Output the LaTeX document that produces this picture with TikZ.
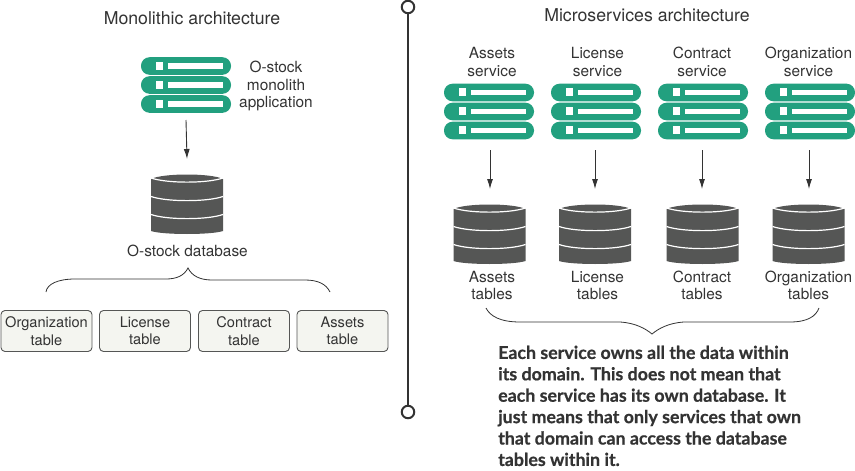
\documentclass[tikz,border=0pt]{standalone}
\usepackage{fontspec}
\setmainfont{TeX Gyre Heros}
\newfontfamily\notefont[BoldFeatures={FakeBold=0.6}]{Lato}
\usetikzlibrary{arrows.meta}
\definecolor{srvgreen}{HTML}{22A07F}
\definecolor{dbgray}{HTML}{555655}
\definecolor{txtgray}{HTML}{333333}
\definecolor{tablefill}{HTML}{F4F5F0}
\tikzset{
  lbl/.style={text=txtgray, align=center, inner sep=0pt, font=\fontsize{15.4}{17.6}\selectfont},
  headlbl/.style={lbl, font=\fontsize{17.7}{20}\selectfont},
  tablebox/.style={lbl, font=\fontsize{14.6}{17.4}\selectfont, draw=dbgray, line width=0.9pt, fill=tablefill,
    rounded corners=4pt, minimum width=91pt, minimum height=41pt},
  endring/.style={circle, draw=txtgray, line width=2pt, fill=white, minimum size=12.5pt, inner sep=0pt},
  brace/.style={draw=txtgray, line width=0.8pt},
  flow/.style={->, line width=0.9pt, draw=txtgray},
  srvrow/.pic={
    \fill[srvgreen, rounded corners=8.5pt] (-45,-8.8) rectangle (45,8.8);
    \fill[white] (-30,-4.2) rectangle (-23,3.5);
    \fill[white] (-18,-2.6) rectangle (37,2.6);
  },
  srvstack/.pic={
    \pic at (0,-19) {srvrow};
    \pic at (0,0) {srvrow};
    \pic at (0,19) {srvrow};
    \coordinate (-out) at (0,35);
  },
  dbstack/.pic={
    \fill[dbgray] (-36,-25) .. controls (-24,-31) and (24,-31) .. (36,-25) -- (36,27)
      .. controls (24,31) and (-24,31) .. (-36,27) -- cycle;
    \foreach \yy in {-26,-7.5,10.5} {
      \draw[white, line width=1.2pt] (-36,\yy) .. controls (-20,\yy+5.5) and (20,\yy+5.5) .. (36,\yy);
    }
    \coordinate (-in) at (0,-45);
  }
}
\begin{document}
\begin{tikzpicture}[x=1pt, y=-1pt, >={Latex[length=10pt,width=6pt]}]
  \useasboundingbox (0,0) rectangle (855,471);

  % divider
  \node[endring] (topring) at (408,7) {};
  \node[endring] (botring) at (408,412) {};
  \draw[txtgray, line width=1.7pt] (topring) -- (botring);

  % Monolithic side
  \node[headlbl] (monotitle) at (192,18) {Monolithic architecture};
  \pic (monoapp) at (186,85) {srvstack};
  \node[lbl] (monolbl) at (276,86) {O-stock\\monolith\\application};
  \pic (monodb) at (187,204) {dbstack};
  \draw[flow] (monoapp-out) -- (monodb-in);
  \node[lbl] (monodblbl) at (187.5,251) {O-stock database};
  \coordinate (monobrace) at (188,268);
  \draw[brace] (46,292) .. controls (47,284) and (58,279) .. (75,279) -- (166,279)
    .. controls (176,279) and (184,276) .. (monobrace)
    .. controls (192,276) and (200,280) .. (212,280) -- (305,280)
    .. controls (318,280) and (326,284) .. (330,292);
  \node[tablebox] (orgtable) at (46.5,331) {Organization\\table};
  \node[tablebox] (lictable) at (145,331) {License\\table};
  \node[tablebox] (contable) at (244,331) {Contract\\table};
  \node[tablebox] (asstable) at (342.5,331) {Assets\\table};

  % Microservices side
  \node[headlbl] (microtitle) at (647,15) {Microservices architecture};
  \foreach \nm/\txt/\sx/\ax/\dx/\lx in {ass/Assets/489/490/489.5/492, lic/License/596/595/595/597.5, con/Contract/703/702/702.5/702, org/Organization/810/809/808.5/808.5} {
    \node[lbl] (\nm svc) at (\lx,62) {\txt\\service};
    \pic (\nm app) at (\sx,111.5) {srvstack};
    \pic (\nm db) at (\dx,234) {dbstack};
    \coordinate (\nm from) at (\ax,150);
    \coordinate (\nm to) at (\ax,189);
    \draw[flow] (\nm from) -- (\nm to);
    \node[lbl] (\nm tbl) at (\lx,285.5) {\txt\\tables};
  }
  \coordinate (microbrace) at (652,334);
  \draw[brace] (486,308) .. controls (490,316) and (500,322) .. (520,322) -- (620,322)
    .. controls (636,323) and (646,329) .. (microbrace)
    .. controls (658,329) and (668,323) .. (684,322) -- (790,322)
    .. controls (808,322) and (816,316) .. (819,308);
  \node[anchor=north west, inner sep=0pt, align=left, text=txtgray,
    font=\notefont\bfseries\fontsize{17.8}{21.4}\selectfont] (note) at (498,345.5)
    {Each service owns all the data within\\its domain. This does not mean that\\each service has its own database. It\\just means that only services that own\\that domain can access the database\\tables within it.};
\end{tikzpicture}
\end{document}
